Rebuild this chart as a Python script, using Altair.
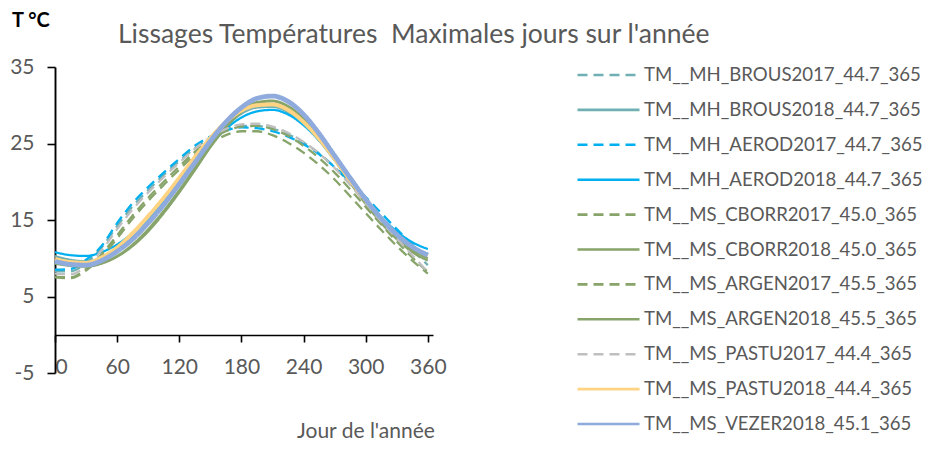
import altair as alt
import pandas as pd

days = [0, 15, 30, 45, 60, 75, 90, 105, 120, 135, 150, 165, 180, 195, 210, 225, 240, 255, 270, 285, 300, 315, 330, 345, 360]

series_names = [
    "TM__MH_BROUS2017_44.7_365",
    "TM__MH_BROUS2018_44.7_365",
    "TM__MH_AEROD2017_44.7_365",
    "TM__MH_AEROD2018_44.7_365",
    "TM__MS_CBORR2017_45.0_365",
    "TM__MS_CBORR2018_45.0_365",
    "TM__MS_ARGEN2017_45.5_365",
    "TM__MS_ARGEN2018_45.5_365",
    "TM__MS_PASTU2017_44.4_365",
    "TM__MS_PASTU2018_44.4_365",
    "TM__MS_VEZER2018_45.1_365",
]

brous2017 = [8.3, 8.3, 9.4, 11.4, 14.2, 16.8, 18.9, 20.9, 22.7, 24.4, 25.8, 26.8, 27.3, 27.3, 26.9, 26.2, 25.1, 23.7, 21.9, 19.8, 17.6, 15.3, 13.2, 11.1, 9.1]
brous2018 = [10.3, 9.8, 9.6, 10.1, 11.2, 12.8, 14.8, 17.1, 19.7, 22.4, 25.0, 27.2, 28.9, 29.7, 29.8, 29.1, 27.6, 25.4, 22.8, 20.0, 17.4, 15.0, 13.0, 11.5, 10.6]
aerod2017 = [8.5, 8.6, 9.8, 11.6, 14.6, 17.2, 19.3, 21.2, 23.0, 24.7, 25.9, 26.7, 27.1, 27.0, 26.6, 25.9, 24.9, 23.6, 21.9, 20.0, 18.0, 15.9, 13.8, 11.8, 9.9]
aerod2018 = [10.8, 10.4, 10.3, 10.8, 11.8, 13.3, 15.2, 17.4, 19.8, 22.3, 24.8, 26.9, 28.4, 29.2, 29.4, 28.8, 27.4, 25.4, 22.9, 20.3, 17.7, 15.4, 13.5, 12.1, 11.2]
cborr2017 = [7.6, 7.5, 8.6, 10.5, 13.0, 15.6, 17.9, 20.0, 22.0, 23.9, 25.5, 26.6, 27.2, 27.3, 26.9, 26.0, 24.7, 23.1, 21.2, 19.0, 16.7, 14.4, 12.2, 10.1, 8.2]
cborr2018 = [9.5, 9.1, 9.0, 9.4, 10.3, 11.8, 13.8, 16.2, 18.9, 21.8, 24.7, 27.3, 29.3, 30.4, 30.6, 29.9, 28.3, 25.9, 23.1, 20.2, 17.4, 14.9, 12.8, 11.1, 10.0]
argen2017 = [7.5, 7.4, 8.4, 10.2, 12.6, 15.2, 17.5, 19.6, 21.6, 23.5, 25.0, 26.1, 26.6, 26.6, 26.1, 25.1, 23.8, 22.2, 20.3, 18.1, 15.9, 13.7, 11.6, 9.7, 8.0]
argen2018 = [9.3, 9.0, 8.9, 9.3, 10.2, 11.6, 13.5, 15.9, 18.6, 21.5, 24.5, 27.1, 29.1, 30.3, 30.5, 29.8, 28.1, 25.7, 22.9, 19.9, 17.1, 14.6, 12.5, 10.8, 9.7]
pastu2017 = [8.0, 7.9, 9.0, 11.0, 13.8, 16.4, 18.6, 20.6, 22.5, 24.3, 25.8, 26.9, 27.5, 27.6, 27.2, 26.4, 25.2, 23.7, 21.8, 19.6, 17.2, 14.8, 12.6, 10.4, 8.2]
pastu2018 = [9.9, 9.5, 9.4, 10.1, 11.4, 13.3, 15.5, 17.9, 20.5, 23.2, 25.7, 27.8, 29.3, 30.0, 30.1, 29.4, 27.8, 25.6, 23.0, 20.2, 17.6, 15.2, 13.1, 11.5, 10.4]
vezer2018 = [9.6, 9.2, 9.1, 9.7, 10.9, 12.5, 14.6, 17.0, 19.7, 22.5, 25.3, 27.8, 29.7, 30.9, 31.2, 30.5, 28.8, 26.3, 23.4, 20.5, 17.7, 15.2, 13.1, 11.5, 10.4]

series_values = [brous2017, brous2018, aerod2017, aerod2018, cborr2017, cborr2018,
                 argen2017, argen2018, pastu2017, pastu2018, vezer2018]

colors = ["#70B0B2", "#70B0B2", "#00B0F0", "#00B0F0", "#87A46A", "#87A46A",
          "#87A46A", "#87A46A", "#BFBFBF", "#FFD382", "#8FAADC"]
dashes = [[10, 6], [1, 0], [10, 6], [1, 0], [10, 6], [1, 0],
          [10, 6], [1, 0], [10, 6], [1, 0], [1, 0]]
widths = [2.3, 2.3, 2.3, 2.3, 2.3, 2.3, 2.3, 2.3, 2.3, 4.0, 4.8]

x_ticks = [0, 60, 120, 180, 240, 300, 360]
y_ticks = [-5, 5, 15, 25, 35]

rows = []
for k, (name, vals) in enumerate(zip(series_names, series_values)):
    for d, v in zip(days, vals):
        rows.append({"series": name, "order": k, "day": d, "temp": v, "w": widths[k]})
df = pd.DataFrame(rows)

FONT = "Lato"
GREY = "#595959"

lines = alt.Chart(df).mark_line(interpolate="monotone").encode(
    x=alt.X("day:Q", scale=alt.Scale(domain=[0, 365], nice=False),
            axis=alt.Axis(values=x_ticks, title=None, offset=-38, tickSize=7,
                          labelPadding=25, labelBaseline="middle",
                          labelFontSize=21, labelFont=FONT, labelColor=GREY,
                          domainColor="#000000", domainWidth=1.6,
                          tickColor="#000000", tickWidth=1.6, grid=False)),
    y=alt.Y("temp:Q", scale=alt.Scale(domain=[-5, 35], nice=False, zero=False),
            axis=alt.Axis(values=y_ticks, title=None, tickSize=8, labelPadding=13,
                          labelExpr="replace(datum.label, '\u2212', '-')",
                          labelFontSize=21, labelFont=FONT, labelColor=GREY,
                          domainColor="#000000", domainWidth=1.9,
                          tickColor="#000000", tickWidth=1.6, grid=False)),
    color=alt.Color("series:N",
                    scale=alt.Scale(domain=series_names, range=colors),
                    sort=series_names,
                    legend=alt.Legend(title=None, orient="none", legendX=521, legendY=-2,
                                      symbolType="stroke", symbolSize=3844,
                                      symbolStrokeWidth=2.6,
                                      clipHeight=20, rowPadding=14.9,
                                      labelFontSize=18.6, labelFont=FONT,
                                      labelColor=GREY, labelOffset=3,
                                      symbolOffset=0, padding=0, labelLimit=0)),
    strokeDash=alt.StrokeDash("series:N",
                              scale=alt.Scale(domain=series_names, range=dashes),
                              sort=series_names),
    strokeWidth=alt.StrokeWidth("w:Q", scale=None),
    order=alt.Order("order:Q"),
)

title_txt = alt.Chart(pd.DataFrame({"t": ["Lissages Températures\u00a0 Maximales jours sur l'année"]})).mark_text(
    align="left", baseline="middle", fontSize=26.5, font=FONT, color=GREY
).encode(text="t:N", x=alt.value(63), y=alt.value(-32))

unit_txt = alt.Chart(pd.DataFrame({"t": ["T °C"]})).mark_text(
    align="left", baseline="middle", fontSize=20, font=FONT, fontWeight="bold", color="#000000"
).encode(text="t:N", x=alt.value(-43), y=alt.value(-46))

xlab_txt = alt.Chart(pd.DataFrame({"t": ["Jour de l'année"]})).mark_text(
    align="left", baseline="middle", fontSize=21, font=FONT, color=GREY
).encode(text="t:N", x=alt.value(242), y=alt.value(365))

chart = alt.layer(lines, title_txt, unit_txt, xlab_txt).properties(
    width=378, height=306,
    autosize=alt.AutoSizeParams(type="none"),
    padding={"left": 47, "top": 59, "right": 494, "bottom": 71},
    background="white",
).configure_view(stroke=None)

chart.save("out.html", embed_options={"renderer": "svg", "actions": False})
